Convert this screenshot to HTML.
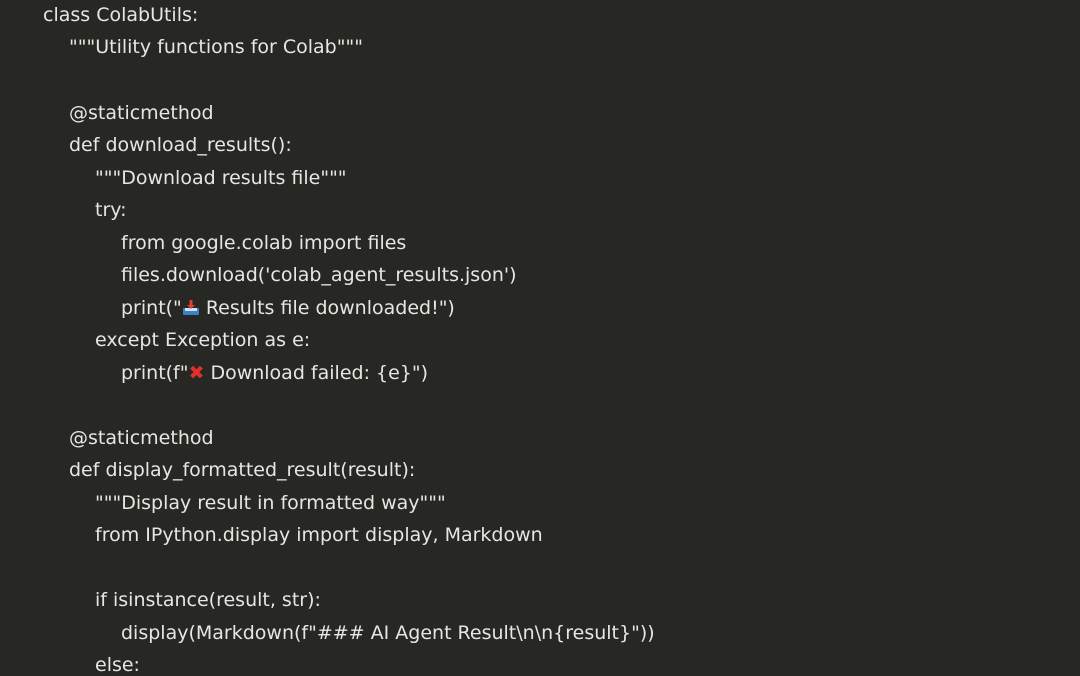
<!DOCTYPE html>
<html><head><meta charset="utf-8"><style>
html,body{margin:0;padding:0;}
body{width:1080px;height:675px;background:#272723;overflow:hidden;position:relative;font-family:"DejaVu Sans","Liberation Sans",sans-serif;font-size:19px;color:#e6e6e2;}
.l{position:absolute;white-space:pre;line-height:22px;}
.x{color:#e0312b;font-weight:bold;}
</style></head><body>
<div class="l" style="left:43px;top:4px">class ColabUtils:</div>
<div class="l" style="left:69px;top:36px">"""Utility functions for Colab"""</div>
<div class="l" style="left:69px;top:102px">@staticmethod</div>
<div class="l" style="left:69px;top:134px">def download_results():</div>
<div class="l" style="left:95px;top:167px">"""Download results file"""</div>
<div class="l" style="left:95px;top:199px">try:</div>
<div class="l" style="left:121px;top:232px">from google.colab import files</div>
<div class="l" style="left:121px;top:264px">files.download('colab_agent_results.json')</div>
<div class="l" style="left:121px;top:297px">print("<svg width="18" height="16" viewBox="0 0 18 16" style="vertical-align:-2px"><rect x="1" y="8" width="16" height="7" rx="1" fill="#3b7fc4"/><rect x="3" y="8" width="12" height="3" fill="#cfe3f5"/><rect x="7.5" y="0" width="3" height="5" fill="#e0412b"/><polygon points="5,5 13,5 9,9" fill="#e0412b"/></svg> Results file downloaded!")</div>
<div class="l" style="left:95px;top:329px">except Exception as e:</div>
<div class="l" style="left:121px;top:362px">print(f"<span class="x">✖</span> Download failed: {e}")</div>
<div class="l" style="left:69px;top:427px">@staticmethod</div>
<div class="l" style="left:69px;top:459px">def display_formatted_result(result):</div>
<div class="l" style="left:95px;top:492px">"""Display result in formatted way"""</div>
<div class="l" style="left:95px;top:524px">from IPython.display import display, Markdown</div>
<div class="l" style="left:95px;top:589px">if isinstance(result, str):</div>
<div class="l" style="left:121px;top:622px">display(Markdown(f"### AI Agent Result\n\n{result}"))</div>
<div class="l" style="left:95px;top:654px">else:</div>
</body></html>
